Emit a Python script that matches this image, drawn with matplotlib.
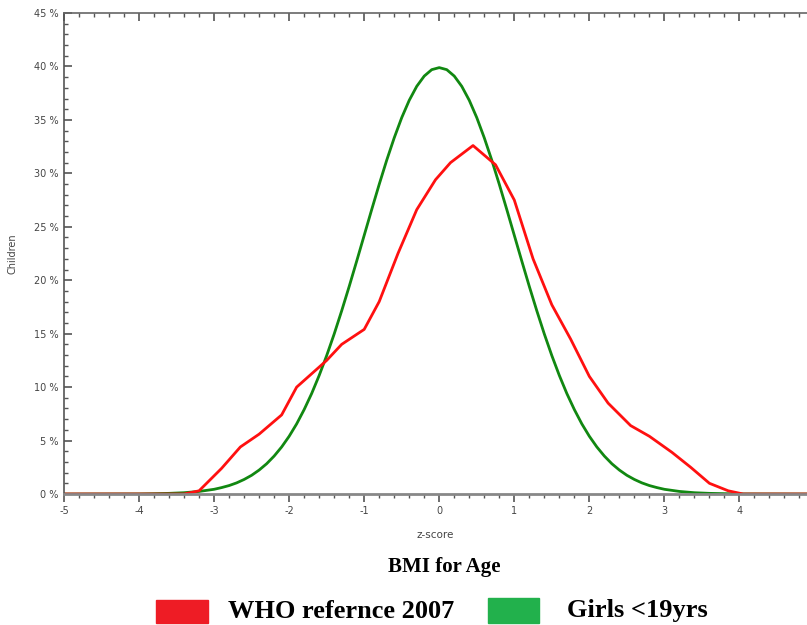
import matplotlib.pyplot as plt
from matplotlib.patches import Rectangle
from matplotlib.ticker import MultipleLocator, FuncFormatter

# WHO reference 2007 (red)
who_z = [-5.0, -3.4, -3.2, -2.9, -2.65, -2.4, -2.1, -1.9, -1.5, -1.3, -1.0,
         -0.8, -0.55, -0.3, -0.05, 0.15, 0.45, 0.75, 1.0, 1.25, 1.5, 1.75,
         2.0, 2.25, 2.55, 2.8, 3.1, 3.35, 3.6, 3.85, 4.05, 4.9]
who_pct = [0.0, 0.0, 0.3, 2.4, 4.4, 5.6, 7.4, 10.0, 12.5, 14.0, 15.4,
           18.0, 22.5, 26.6, 29.4, 31.0, 32.6, 30.8, 27.5, 22.0, 17.7, 14.5,
           11.0, 8.5, 6.4, 5.4, 3.9, 2.5, 1.0, 0.3, 0.0, 0.0]

# Girls <19yrs (green)
girls_z = [-5.0, -4.0, -3.8, -3.6, -3.4, -3.2, -3.0, -2.9, -2.8, -2.7, -2.6,
           -2.5, -2.4, -2.3, -2.2, -2.1, -2.0, -1.9, -1.8, -1.7, -1.6, -1.5,
           -1.4, -1.3, -1.2, -1.1, -1.0, -0.9, -0.8, -0.7, -0.6, -0.5, -0.4,
           -0.3, -0.2, -0.1, 0.0, 0.1, 0.2, 0.3, 0.4, 0.5, 0.6, 0.7, 0.8,
           0.9, 1.0, 1.1, 1.2, 1.3, 1.4, 1.5, 1.6, 1.7, 1.8, 1.9, 2.0,
           2.1, 2.2, 2.3, 2.4, 2.5, 2.6, 2.7, 2.8, 2.9, 3.0, 3.2, 3.4,
           3.6, 3.8, 4.0, 4.9]
girls_pct = [0.0, 0.01, 0.03, 0.06, 0.12, 0.24, 0.44, 0.60, 0.79, 1.04, 1.36,
             1.75, 2.24, 2.83, 3.55, 4.40, 5.40, 6.56, 7.90, 9.40, 11.09, 12.95,
             14.97, 17.14, 19.42, 21.79, 24.20, 26.61, 28.97, 31.23, 33.32, 35.21, 36.83,
             38.14, 39.10, 39.70, 39.89, 39.70, 39.10, 38.14, 36.83, 35.21, 33.32, 31.23, 28.97,
             26.61, 24.20, 21.79, 19.42, 17.14, 14.97, 12.95, 11.09, 9.40, 7.90, 6.56, 5.40,
             4.40, 3.55, 2.83, 2.24, 1.75, 1.36, 1.04, 0.79, 0.60, 0.44, 0.24, 0.12,
             0.06, 0.03, 0.01, 0.0]

legend_labels = ['WHO refernce 2007', 'Girls <19yrs']
legend_colors = ['#ee1c25', '#22b14c']

fig = plt.figure(figsize=(8.07, 6.25), dpi=100)
ax = fig.add_axes([0.0793, 0.2096, 0.9207, 0.7696])

ax.plot(girls_z, girls_pct, color='#118811', linewidth=2.0,
        solid_joinstyle='round', solid_capstyle='round')
ax.plot(who_z, who_pct, color='#ff1010', linewidth=2.0,
        solid_joinstyle='round', solid_capstyle='round')

ax.set_xlim(-5, 4.9)
ax.set_ylim(0, 45)
ax.xaxis.set_major_locator(MultipleLocator(1))
ax.xaxis.set_minor_locator(MultipleLocator(0.2))
ax.yaxis.set_major_locator(MultipleLocator(5))
ax.yaxis.set_minor_locator(MultipleLocator(1))
ax.yaxis.set_major_formatter(FuncFormatter(lambda v, p: '%d %%' % v))
ax.xaxis.set_major_formatter(FuncFormatter(lambda v, p: '%d' % v))

grey = '#555555'
ax.spines['right'].set_visible(False)
ax.spines['left'].set_color(grey)
ax.spines['top'].set_color('#666666')
ax.spines['bottom'].set_color('#888888')
ax.spines['bottom'].set_linewidth(2.0)
ax.spines['top'].set_linewidth(1.2)
ax.spines['left'].set_linewidth(1.2)

ax.tick_params(axis='y', which='major', direction='in', length=6, width=1.2,
               color=grey, labelsize=7, labelcolor='#444444', pad=4)
ax.tick_params(axis='y', which='minor', direction='in', length=3, width=1.0, color=grey)
ax.tick_params(axis='x', which='major', direction='out', length=6, width=1.2,
               color=grey, labelsize=7, labelcolor='#444444', top=True, pad=3)
ax.tick_params(axis='x', which='minor', direction='out', length=3, width=1.0,
               color=grey, top=True)
# top ticks point down into the plot
for t in ax.xaxis.get_major_ticks() + ax.xaxis.get_minor_ticks():
    t.tick2line.set_marker(3)

ax.set_ylabel('Children', fontsize=7, color='#444444')
ax.yaxis.set_label_coords(-0.062, 0.5)
ax.set_xlabel('z-score', fontsize=7.5, color='#444444', labelpad=10)

fig.text(0.551, 0.093, 'BMI for Age', ha='center', va='center',
         family='Liberation Serif', fontweight='bold', fontsize=15)

# legend drawn as boxes and text under the chart
fig.add_artist(Rectangle((156 / 807, 1 - 623 / 625), 52 / 807, 23 / 625,
                         transform=fig.transFigure, color=legend_colors[0]))
fig.text(228 / 807, 1 - 611 / 625, legend_labels[0], ha='left', va='center',
         family='Liberation Serif', fontweight='bold', fontsize=19)
fig.add_artist(Rectangle((488 / 807, 1 - 623 / 625), 51 / 807, 25 / 625,
                         transform=fig.transFigure, color=legend_colors[1]))
fig.text(567 / 807, 1 - 611 / 625, legend_labels[1], ha='left', va='center',
         family='Liberation Serif', fontweight='bold', fontsize=19)

fig.savefig('out.png', dpi=100)
